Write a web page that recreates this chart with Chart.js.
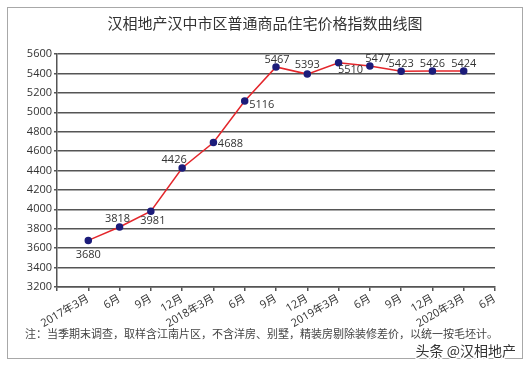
<!DOCTYPE html>
<html><head><meta charset="utf-8">
<script src="https://cdn.jsdelivr.net/npm/chart.js@4"></script>
<style>html,body{margin:0;padding:0;background:#fff;overflow:hidden}</style>
</head><body>
<canvas id="c" width="530" height="371"></canvas>
<script>
const quarterLabels = ['2017年3月','6月','9月','12月','2018年3月','6月','9月','12月','2019年3月','6月','9月','12月','2020年3月','6月'];
const priceIndex = [3680,3818,3981,4426,4688,5116,5467,5393,5510,5477,5423,5426,5424];
const yMin = 3200, yMax = 5600, yStep = 200;
const titleText = '汉相地产汉中市区普通商品住宅价格指数曲线图';
const noteText = '注：当季期末调查，取样含江南片区，不含洋房、别墅，精装房剔除装修差价，以统一按毛坯计。';
const watermarkText = '头条 @汉相地产';
const labelOffsets = [[0,14],[-2,-8],[2,10],[-8,-8],[17,1],[17,4],[1,-7],[0,-9],[12,7],[8,-7],[0,-7],[0,-7],[0,-7]];

const FONT = '"Open Sans", "Noto Sans CJK SC", sans-serif';

const decor = {
  id: 'decor',
  beforeDraw(chart) {
    const ctx = chart.ctx;
    ctx.save();
    ctx.fillStyle = '#fff';
    ctx.fillRect(0, 0, chart.width, chart.height);
    ctx.strokeStyle = '#a8a8a8';
    ctx.lineWidth = 1;
    ctx.strokeRect(7.5, 7.5, 515, 351);
    ctx.fillStyle = '#333';
    ctx.font = '15px "Noto Sans CJK SC"';
    ctx.textAlign = 'center';
    ctx.textBaseline = 'middle';
    ctx.fillText(titleText, 265, 23);
    ctx.font = '11px "Noto Sans CJK SC"';
    ctx.textAlign = 'left';
    ctx.fillStyle = '#444';
    ctx.fillText(noteText, 25, 334);
    ctx.restore();
  },
  afterDraw(chart) {
    const ctx = chart.ctx;
    ctx.save();
    ctx.font = '14px "Noto Sans CJK SC"';
    ctx.textAlign = 'right';
    ctx.textBaseline = 'middle';
    ctx.lineWidth = 3;
    ctx.strokeStyle = '#fff';
    ctx.strokeText(watermarkText, 516, 351);
    ctx.fillStyle = '#333';
    ctx.fillText(watermarkText, 516, 351);
    ctx.restore();
  }
};

const pointLabels = {
  id: 'pointLabels',
  afterDatasetsDraw(chart) {
    const ctx = chart.ctx;
    const meta = chart.getDatasetMeta(0);
    ctx.save();
    ctx.font = '11px ' + FONT;
    ctx.fillStyle = '#333';
    ctx.textAlign = 'center';
    ctx.textBaseline = 'middle';
    meta.data.forEach((p, i) => {
      const o = labelOffsets[i] || [0, -8];
      ctx.fillText(String(priceIndex[i]), p.x + o[0], p.y + o[1]);
    });
    ctx.restore();
  }
};

new Chart(document.getElementById('c'), {
  type: 'line',
  data: {
    datasets: [{
      data: priceIndex.map((v, i) => ({ x: i + 1, y: v })),
      borderColor: '#e3262b',
      borderWidth: 1.5,
      pointBackgroundColor: '#1c1c7a',
      pointBorderColor: '#1c1c7a',
      pointRadius: 3,
      tension: 0
    }]
  },
  options: {
    responsive: false,
    animation: false,
    layout: { padding: { left: 0, top: 54, right: 35, bottom: 0 } },
    plugins: { legend: { display: false }, tooltip: { enabled: false }, title: { display: false } },
    scales: {
      x: {
        type: 'linear',
        min: 0,
        max: quarterLabels.length,
        afterBuildTicks: s => { s.ticks = Array.from({ length: quarterLabels.length + 1 }, (_, i) => ({ value: i })); },
        afterFit: s => { s.height = 84; },
        ticks: {
          autoSkip: false,
          minRotation: 30,
          maxRotation: 30,
          padding: 1,
          color: '#333',
          font: { family: FONT, size: 11 },
          callback: v => (v >= 1 ? quarterLabels[v - 1] : '')
        },
        grid: { drawOnChartArea: false, drawTicks: true, tickLength: 4, color: '#555', lineWidth: 1.5 },
        border: { display: true, color: '#555', width: 1.5 }
      },
      y: {
        min: yMin,
        max: yMax,
        afterFit: s => { s.width = 57; },
        ticks: { stepSize: yStep, padding: 2, color: '#333', font: { family: FONT, size: 11 }, callback: v => String(v) },
        grid: { color: '#555', lineWidth: 1.5, drawTicks: true, tickLength: 3 },
        border: { display: true, color: '#555', width: 1.5 }
      }
    }
  },
  plugins: [decor, pointLabels]
});
</script>
</body></html>
